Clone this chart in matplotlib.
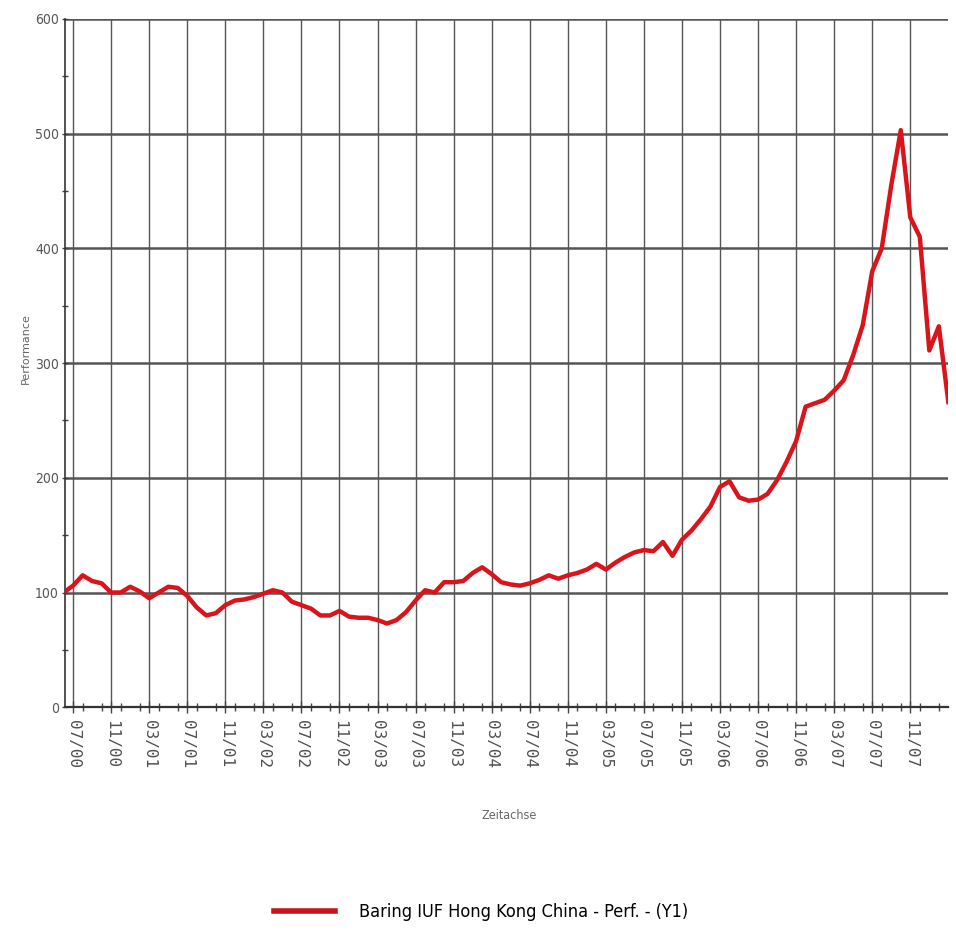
import numpy as np
import matplotlib
matplotlib.use("Agg")
import matplotlib.pyplot as plt
from matplotlib.ticker import MultipleLocator

# monthly performance, 06/00 .. 03/08
start_year, start_month = 2000, 6
perf = [
    100, 106, 115, 110, 108, 100, 100, 105, 101, 95,
    100, 105, 104, 97, 87, 80, 82, 89, 93, 94,
    96, 99, 102, 100, 92, 89, 86, 80, 80, 84,
    79, 78, 78, 76, 73, 76, 83, 93, 102, 100,
    109, 109, 110, 117, 122, 116, 109, 107, 106, 108,
    111, 115, 112, 115, 117, 120, 125, 120, 126, 131,
    135, 137, 136, 144, 132, 146, 154, 164, 175, 192,
    197, 183, 180, 181, 186, 198, 214, 232, 262, 265,
    268, 276, 285, 307, 333, 380, 400, 455, 503, 427,
    410, 311, 332, 266,
]
tick_labels = [
    "07/00", "11/00", "03/01", "07/01", "11/01", "03/02", "07/02", "11/02",
    "03/03", "07/03", "11/03", "03/04", "07/04", "11/04", "03/05", "07/05",
    "11/05", "03/06", "07/06", "11/06", "03/07", "07/07", "11/07",
]
y_ticks = [0, 100, 200, 300, 400, 500, 600]
series_name = "Baring IUF Hong Kong China - Perf. - (Y1)"


def month_index(lbl):
    mm, yy = lbl.split("/")
    return (2000 + int(yy) - start_year) * 12 + int(mm) - start_month


x = np.arange(len(perf))
tick_pos = [month_index(t) for t in tick_labels]

fig = plt.figure(figsize=(9.56, 9.43), dpi=100)
ax = fig.add_axes([0.068, 0.250, 0.924, 0.730])

line, = ax.plot(x, perf, color="#d9141b", lw=3.2, solid_joinstyle="round",
                zorder=3)

ax.set_xlim(0.15, 93)
ax.set_ylim(0, 600)
ax.set_yticks(y_ticks)
ax.yaxis.set_minor_locator(MultipleLocator(50))
ax.set_xticks(tick_pos)
ax.set_xticklabels(tick_labels, rotation=270, fontsize=11.5, color="#505050",
                   family="DejaVu Sans Mono")
ax.xaxis.set_minor_locator(MultipleLocator(2))
ax.set_yticklabels([str(v) for v in y_ticks], fontsize=10, color="#555555",
                   fontstretch="condensed")

ax.tick_params(axis="x", which="major", direction="inout", length=8,
               width=1.0, color="#444444", pad=5)
ax.tick_params(axis="x", which="minor", direction="inout", length=6,
               width=1.0, color="#444444")
ax.tick_params(axis="y", which="both", direction="inout", length=5,
               width=1.0, color="#444444", pad=2)

# grid
for v in y_ticks[1:]:
    ax.axhline(v, color="#555555", lw=1.8, zorder=1)
ax.grid(axis="x", which="major", color="#555555", lw=1.0, zorder=1)

for side in ["top", "right"]:
    ax.spines[side].set_visible(False)
ax.spines["left"].set_color("#333333")
ax.spines["bottom"].set_color("#333333")
ax.spines["left"].set_linewidth(1.2)
ax.spines["bottom"].set_linewidth(1.6)

fig.text(0.027, 0.63, "Performance", rotation=90, fontsize=8,
         color="#666666", ha="center", va="center")
fig.text(0.533, 0.135, "Zeitachse", fontsize=9, color="#666666",
         ha="center", va="center", fontstretch="condensed")

# legend
fig.legend(handles=[line], labels=[series_name], loc="center",
           bbox_to_anchor=(0.503, 0.033), frameon=False, handlelength=3.4,
           handletextpad=1.3,
           prop={"family": "DejaVu Sans", "stretch": "condensed",
                 "size": 13})
for lh in fig.legends[0].get_lines():
    lh.set_color("#c8141c")
    lh.set_linewidth(4)

fig.savefig("out.png", dpi=100)
